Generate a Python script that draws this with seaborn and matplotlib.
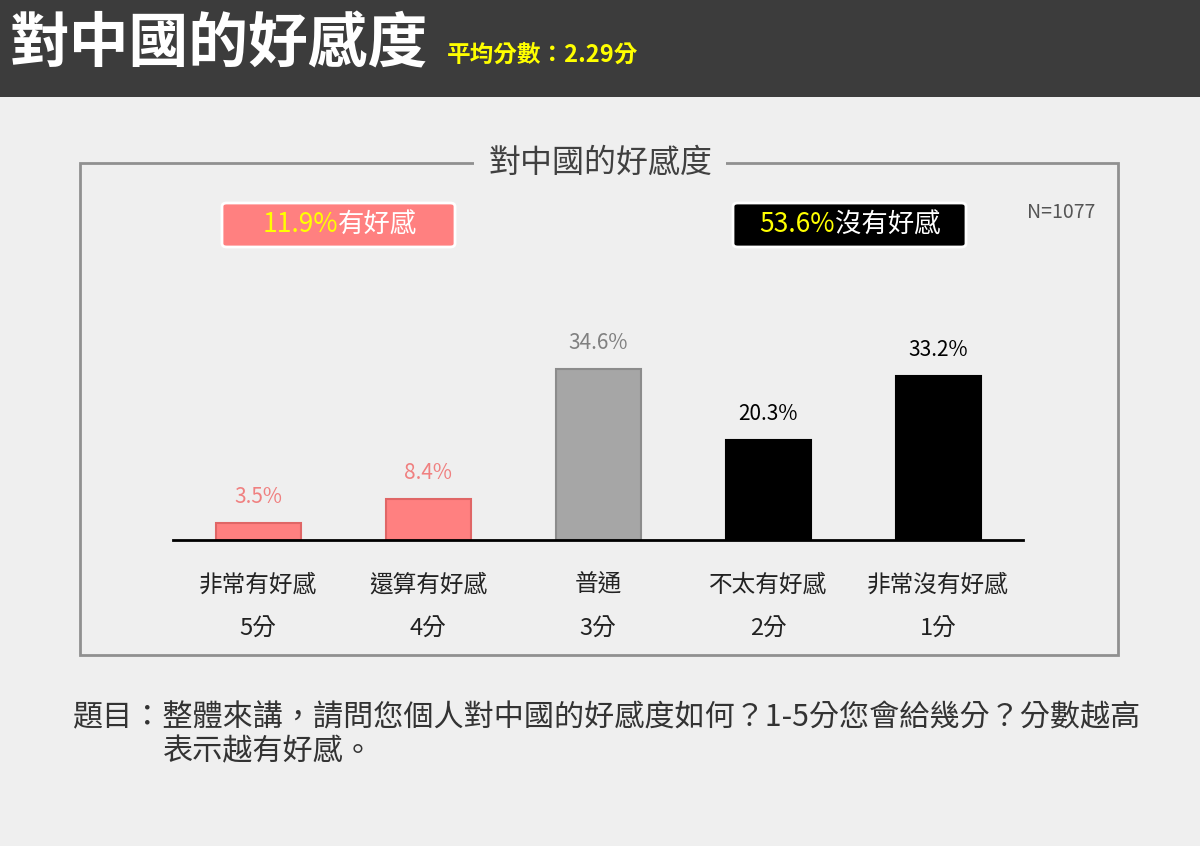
import matplotlib.pyplot as plt
import seaborn as sns
import pandas as pd
from matplotlib.patches import Rectangle, FancyBboxPatch

sns.set_style("white")
plt.rcParams['font.family'] = ['Noto Sans CJK TC', 'DejaVu Sans']

categories = ['非常有好感\n5分', '還算有好感\n4分', '普通\n3分', '不太有好感\n2分', '非常沒有好感\n1分']
values = [3.5, 8.4, 34.6, 20.3, 33.2]
bar_colors = ['#ff8080', '#ff8080', '#a6a6a6', '#000000', '#000000']
edge_colors = ['#e06666', '#e06666', '#8c8c8c', '#000000', '#000000']
label_colors = ['#f08080', '#f08080', '#808080', '#000000', '#000000']

W, H = 1200, 846
fig = plt.figure(figsize=(12, 8.46), dpi=100)
fig.patch.set_facecolor('#efefef')

def fx(x): return x / W
def fy(y): return 1 - y / H

# header bar
fig.patches.append(Rectangle((0, fy(97)), 1, 97 / H, transform=fig.transFigure,
                             facecolor='#3c3c3c', edgecolor='none'))
fig.text(fx(10), fy(46), '對中國的好感度', color='white', fontsize=43,
         fontweight='bold', va='center')
fig.text(fx(447), fy(55), '平均分數：2.29分', color='#ffff00', fontsize=17,
         fontweight='bold', va='center')

# frame
fig.patches.append(Rectangle((fx(80), fy(655)), (1118 - 80) / W, (655 - 163) / H,
                             transform=fig.transFigure, facecolor='none',
                             edgecolor='#909090', linewidth=2))
fig.text(0.5, fy(163), '對中國的好感度', ha='center', va='center', fontsize=23,
         color='#404040', fontweight='medium',
         bbox=dict(facecolor='#efefef', edgecolor='none', pad=10))
fig.text(fx(1095), fy(213), 'N=1077', ha='right', va='center', fontsize=14, color='#555555')

# summary boxes
for x0, x1, fc, num, txt, split in [(222, 455, '#ff8080', '11.9%', '有好感', 338),
                                     (733, 966, '#000000', '53.6%', '沒有好感', 835)]:
    fig.patches.append(FancyBboxPatch((fx(x0), fy(247)), (x1 - x0) / W, 44 / H,
                                      boxstyle='round,pad=0,rounding_size=0.004',
                                      transform=fig.transFigure, facecolor=fc,
                                      edgecolor='white', linewidth=2))
    fig.text(fx(split), fy(225), num, color='#ffff00', fontsize=19, ha='right', va='center',
             fontweight='medium')
    fig.text(fx(split), fy(225), txt, color='white', fontsize=19, ha='left', va='center',
             fontweight='medium')

# bar chart
ax = fig.add_axes([fx(173), fy(540), (1023 - 173) / W, 250 / H])
ax.set_facecolor('none')
df = pd.DataFrame({'cat': categories, 'val': values})
sns.barplot(data=df, x='cat', y='val', ax=ax, width=0.5, palette=bar_colors,
            hue='cat', legend=False, saturation=1)
for p, ec in zip(ax.patches, edge_colors):
    p.set_edgecolor(ec)
    p.set_linewidth(1.5)
for i, v in enumerate(values):
    ax.text(i, v + 3, f'{v}%', ha='center', va='bottom', fontsize=15, color=label_colors[i])
ax.set_xlim(-0.5, 4.5)
ax.set_ylim(0, 250 / 4.94)
ax.set_yticks([])
ax.set_xlabel('')
ax.set_ylabel('')
for s in ['top', 'right', 'left']:
    ax.spines[s].set_visible(False)
ax.spines['bottom'].set_color('#000000')
ax.spines['bottom'].set_linewidth(2)
ax.tick_params(axis='x', length=0, pad=24)
for t in ax.get_xticklabels():
    t.set_fontsize(17)
    t.set_linespacing(2.2)
    t.set_color('#222222')
    t.set_fontweight('medium')

# footer
fig.text(fx(73), fy(718), '題目：整體來講，請問您個人對中國的好感度如何？1-5分您會給幾分？分數越高',
         fontsize=21.7, va='center', color='#333333')
fig.text(fx(163), fy(752), '表示越有好感。', fontsize=21.7, va='center', color='#333333')

fig.savefig('out.png', dpi=100, facecolor=fig.get_facecolor())
